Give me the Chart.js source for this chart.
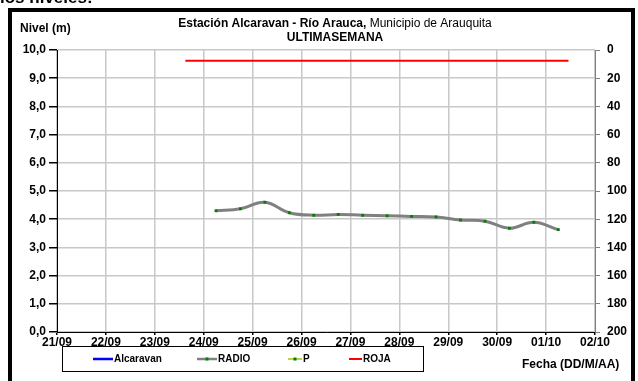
<!DOCTYPE html>
<html lang="es">
<head>
<meta charset="UTF-8">
<title>Estación Alcaravan - Río Arauca</title>
<script src="https://cdn.jsdelivr.net/npm/chart.js"></script>
<style>
  html, body { margin: 0; padding: 0; background: #fff; overflow: hidden; }
  canvas { display: block; }
</style>
</head>
<body>
<canvas id="grafica" width="638" height="381"></canvas>
<script>
// eje X: un dia por division, desde 21/09
const fechas = ['21/09', '22/09', '23/09', '24/09', '25/09', '26/09', '27/09', '28/09', '29/09', '30/09', '01/10', '02/10'];

// serie RADIO (lecturas cada 12 h)
const radioFechas = ['24/09 06:00', '24/09 18:00', '25/09 06:00', '25/09 18:00', '26/09 06:00', '26/09 18:00',
                     '27/09 06:00', '27/09 18:00', '28/09 06:00', '28/09 18:00', '29/09 06:00', '29/09 18:00',
                     '30/09 06:00', '30/09 18:00', '01/10 06:00'];
const radioNivel = [4.30, 4.37, 4.60, 4.23, 4.14, 4.17, 4.14, 4.12, 4.10, 4.08, 3.97, 3.93, 3.68, 3.89, 3.63];

// umbral ROJA
const rojaFechas = ['23/09 15:00', '01/10 11:00'];
const rojaNivel = [9.62, 9.62];

// series sin datos en la semana
const alcaravanNivel = [];
const pNivel = [];

const nivelTicks = [0, 1, 2, 3, 4, 5, 6, 7, 8, 9, 10];

// '24/09 06:00' -> dias desde 21/09 00:00
function aDias(txt) {
    const [f, h] = txt.split(' ');
    const [d, m] = f.split('/').map(Number);
    const [hh, mm] = (h || '00:00').split(':').map(Number);
    const base = m === 9 ? d - 21 : d + 9;
    return base + (hh + mm / 60) / 24;
}
const pares = (xs, ys) => xs.map((x, i) => ({ x: aDias(x), y: ys[i] }));

const FUENTE = "'Liberation Sans', Arial, sans-serif";

// marco, titulos y leyenda
const decoracion = {
    id: 'decoracion',
    afterDraw(chart) {
        const c = chart.ctx;
        c.save();
        // texto cortado arriba
        c.fillStyle = '#000';
        c.font = 'bold 17px ' + FUENTE;
        c.textBaseline = 'alphabetic';
        c.textAlign = 'left';
        c.fillText('los niveles:', 0, 3);

        // marco negro
        c.strokeStyle = '#000';
        c.lineWidth = 4;
        c.strokeRect(10, 10, 623, 400);

        c.textBaseline = 'middle';
        c.font = 'bold 12px ' + FUENTE;
        c.fillText('Nivel (m)', 20, 29);

        // titulo
        const t1 = 'Estación Alcaravan - Río Arauca,';
        const t2 = ' Municipio de Arauquita';
        c.font = 'bold 12px ' + FUENTE;
        const w1 = c.measureText(t1).width;
        c.font = '12px ' + FUENTE;
        const w2 = c.measureText(t2).width;
        let x0 = 335 - (w1 + w2) / 2;
        c.font = 'bold 12px ' + FUENTE;
        c.fillText(t1, x0, 24);
        c.font = '12px ' + FUENTE;
        c.fillText(t2, x0 + w1, 24);
        c.font = 'bold 12px ' + FUENTE;
        c.textAlign = 'center';
        c.fillText('ULTIMASEMANA', 335, 38);

        c.textAlign = 'left';
        c.fillText('Fecha (DD/M/AA)', 522, 365);

        // leyenda
        c.lineWidth = 1;
        c.strokeStyle = '#000';
        c.strokeRect(62.5, 346.5, 361, 25);
        const items = [[93, 113], [197, 217], [288, 302], [349, 362]];
        c.font = 'bold 10px ' + FUENTE;
        chart.data.datasets.forEach((ds, i) => {
            const [a, b] = items[i];
            c.strokeStyle = ds.borderColor;
            c.lineWidth = ds.legendWidth || 2;
            c.beginPath();
            c.moveTo(a, 359);
            c.lineTo(b, 359);
            c.stroke();
            if (ds.pointRadius > 0) {
                c.fillStyle = ds.pointBackgroundColor;
                c.fillRect((a + b) / 2 - 1.5, 357.5, 3, 3);
            }
            c.fillStyle = '#000';
            c.fillText(ds.label, b + 1, 359.5);
        });
        c.restore();
    }
};

new Chart(document.getElementById('grafica'), {
    type: 'line',
    data: {
        datasets: [
            {
                label: 'Alcaravan',
                data: alcaravanNivel,
                borderColor: '#0000ff',
                pointRadius: 0,
                legendWidth: 2.5
            },
            {
                label: 'RADIO',
                data: pares(radioFechas, radioNivel),
                borderColor: '#808080',
                borderWidth: 3,
                tension: 0.4,
                pointRadius: 2,
                pointBorderWidth: 0,
                pointBackgroundColor: '#008000',
                pointStyle: 'rect',
                legendWidth: 2.5
            },
            {
                label: 'P',
                data: pNivel,
                borderColor: '#99cc00',
                pointRadius: 2,
                pointBackgroundColor: '#008000',
                legendWidth: 1.5
            },
            {
                label: 'ROJA',
                data: pares(rojaFechas, rojaNivel),
                borderColor: '#ff0000',
                borderWidth: 2,
                pointRadius: 0,
                legendWidth: 2
            }
        ]
    },
    options: {
        responsive: false,
        animation: false,
        devicePixelRatio: 1,
        layout: { padding: { top: 50, left: 0, right: 0, bottom: 29 } },
        plugins: {
            legend: { display: false },
            title: { display: false },
            tooltip: { enabled: false }
        },
        scales: {
            x: {
                type: 'linear',
                min: 0,
                max: fechas.length - 1,
                afterFit: s => { s.height = 20; },
                afterBuildTicks: s => { s.ticks = fechas.map((f, i) => ({ value: i })); },
                ticks: {
                    autoSkip: false,
                    maxRotation: 0,
                    padding: 0,
                    color: '#000',
                    font: { family: FUENTE, size: 12, weight: 'bold' },
                    callback: v => fechas[v]
                },
                grid: { color: '#c8c8c8', lineWidth: 1.5, tickLength: 3, tickColor: '#000' },
                border: { color: '#000', width: 1 }
            },
            y: {
                min: 0,
                max: 10,
                afterFit: s => { s.width = 57; },
                afterBuildTicks: s => { s.ticks = nivelTicks.map(v => ({ value: v })); },
                ticks: {
                    padding: 3,
                    color: '#000',
                    font: { family: FUENTE, size: 12, weight: 'bold' },
                    callback: v => v.toFixed(1).replace('.', ',')
                },
                grid: { color: '#c8c8c8', lineWidth: 1.5, tickLength: 8, tickColor: '#000' },
                border: { color: '#000', width: 1 }
            },
            y2: {
                position: 'right',
                reverse: true,
                min: 0,
                max: 200,
                afterFit: s => { s.width = 43; },
                ticks: {
                    stepSize: 20,
                    padding: 7,
                    color: '#000',
                    font: { family: FUENTE, size: 12, weight: 'bold' }
                },
                grid: { drawOnChartArea: false, tickLength: 5, tickColor: '#808080' },
                border: { color: '#808080', width: 1 }
            }
        }
    },
    plugins: [decoracion]
});
</script>
</body>
</html>
